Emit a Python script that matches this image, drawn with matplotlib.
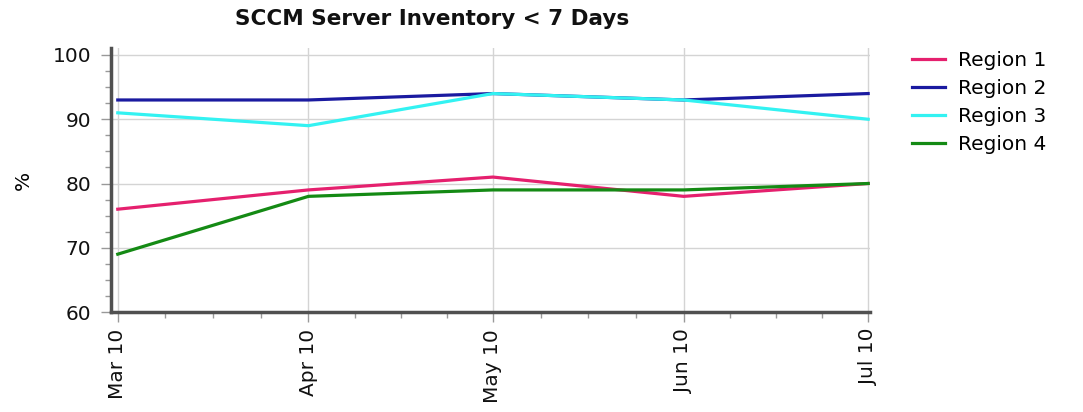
import matplotlib
matplotlib.use("Agg")
import matplotlib.pyplot as plt
import matplotlib.dates as mdates
import numpy as np
import datetime as dt

months = ["2010-03-01", "2010-04-01", "2010-05-01", "2010-06-01", "2010-07-01"]
tick_labels = ["Mar 10", "Apr 10", "May 10", "Jun 10", "Jul 10"]
series_names = ["Region 1", "Region 2", "Region 3", "Region 4"]
region1 = [76, 79, 81, 78, 80]
region2 = [93, 93, 94, 93, 94]
region3 = [91, 89, 94, 93, 90]
region4 = [69, 78, 79, 79, 80]
colors = ["#E5206E", "#1A1AA0", "#33F2F2", "#148A14"]

plt.rcParams['font.family'] = ['DejaVu Sans']

dates = [dt.datetime.strptime(m, "%Y-%m-%d") for m in months]
x = mdates.date2num(dates)

fig = plt.figure(figsize=(10.83, 4.12), dpi=100)
ax = fig.add_axes([111/1083, 1-312/412, (870-111)/1083, (312-48)/412])

for vals, name, c in zip([region1, region2, region3, region4], series_names, colors):
    ax.plot(x, vals, color=c, lw=2.3, label=name, solid_joinstyle='round')

ax.set_xlim(x[0] - 1.1, x[-1] + 0.3)
ax.set_ylim(60, 60 + 40 * (312-48)/(312-55))
ax.set_yticks([60, 70, 80, 90, 100])
ax.set_yticks(np.arange(60, 100.1, 2.5), minor=True)
ax.set_xticks(x)
ax.set_xticklabels(tick_labels, rotation=90)
minor = []
for a, b in zip(x[:-1], x[1:]):
    minor.extend(np.linspace(a, b, 5)[1:-1])
ax.set_xticks(minor, minor=True)

ax.grid(True, which='major', color='#d4d4d4', lw=1)
for s in ['top', 'right']:
    ax.spines[s].set_visible(False)
for s in ['left', 'bottom']:
    ax.spines[s].set_color('#505050')
    ax.spines[s].set_linewidth(2.5)
ax.tick_params(which='major', length=7.2, width=1, color='#999999', labelsize=14.5, labelcolor='#111111')
ax.tick_params(axis='y', which='major', pad=7)
ax.tick_params(axis='x', which='major', pad=5)
ax.tick_params(which='minor', length=4.3, width=1, color='#999999')
ax.set_ylabel('%', fontsize=14.5, labelpad=14)

fig.text(432/1083, 1-19/412, 'SCCM Server Inventory < 7 Days', ha='center', va='center',
         fontsize=15.5, fontweight='bold', color='#111111')

leg = fig.legend(loc='upper left', bbox_to_anchor=(912/1083, 1-51/412), frameon=False,
                 fontsize=14.5, handlelength=1.65, handletextpad=0.65, labelspacing=0.45,
                 borderaxespad=0, borderpad=0)

fig.savefig('out.png', dpi=100)
